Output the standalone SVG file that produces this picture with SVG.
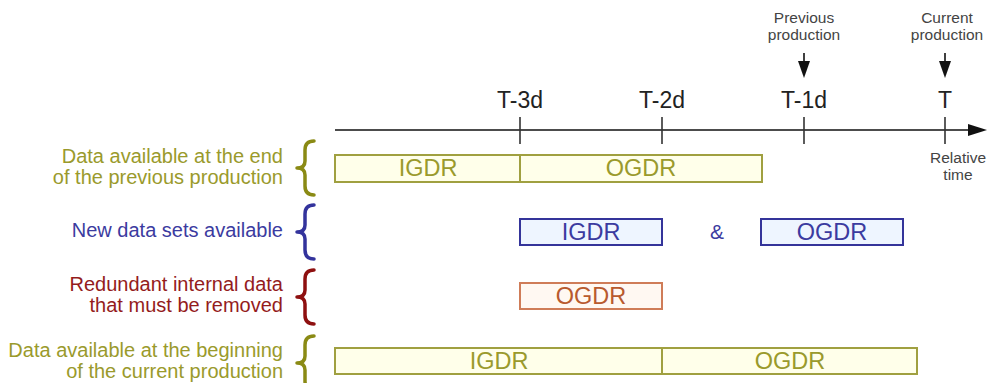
<svg xmlns="http://www.w3.org/2000/svg" width="987" height="383" viewBox="0 0 987 383">
<defs>
<style>
text{font-family:"Liberation Sans",Arial,sans-serif}
.lbl{font-size:20px;text-anchor:end}
.ol{fill:#9a9a2c}
.bl{fill:#3b3ba0}
.rd{fill:#941c1c}
.tick{font-size:23px;fill:#222;text-anchor:middle}
.sm{font-size:15.5px;fill:#444;text-anchor:middle}
.bx{font-size:23.5px;text-anchor:middle}
.brace{fill:none;stroke-width:3.5;stroke-linecap:round;stroke-linejoin:round}
.axis{stroke:#111;stroke-width:1.6;fill:none}
.tk{stroke:#333;stroke-width:1.6}
.ob{fill:#ffffea;stroke:#a0a040;stroke-width:2}
.bb{fill:#eef5ff;stroke:#34349a;stroke-width:2}
.rb{fill:#fff8f2;stroke:#cf7c58;stroke-width:2}
</style>
</defs>

<g id="connectors">
<path class="axis" d="M335,130 L970,130"/>
<path d="M968,124 L987,130 L968,136 z" fill="#111"/>
<line class="tk" x1="520" y1="117" x2="520" y2="144"/>
<line class="tk" x1="662" y1="117" x2="662" y2="144"/>
<line class="tk" x1="804" y1="117" x2="804" y2="144"/>
<line class="tk" x1="945" y1="117" x2="945" y2="144"/>
<line x1="804" y1="53" x2="804" y2="63" stroke="#111" stroke-width="1.6"/>
<path d="M798,61 L810,61 L804,78 z" fill="#111"/>
<line x1="945" y1="53" x2="945" y2="63" stroke="#111" stroke-width="1.6"/>
<path d="M939,61 L951,61 L945,78 z" fill="#111"/>
</g>

<g id="axis-labels">
<text class="tick" x="520" y="108">T-3d</text>
<text class="tick" x="662" y="108">T-2d</text>
<text class="tick" x="804" y="108">T-1d</text>
<text class="tick" x="945" y="108">T</text>
<text class="sm" x="804" y="23">Previous</text>
<text class="sm" x="804" y="40">production</text>
<text class="sm" x="947" y="23">Current</text>
<text class="sm" x="947" y="40">production</text>
<text class="sm" x="958" y="163">Relative</text>
<text class="sm" x="958" y="180">time</text>
</g>

<g id="row1">
<text class="lbl ol" x="283" y="163">Data available at the end</text>
<text class="lbl ol" x="283" y="184">of the previous production</text>
<path class="brace" stroke="#8a8a14" d="M314,141 Q305,141 305,150 L305,161 Q305,168 297,168 Q305,168 305,175 L305,186 Q305,195 314,195"/>
<rect class="ob" x="335" y="155" width="427" height="27"/>
<line x1="520" y1="155" x2="520" y2="182" stroke="#a0a040" stroke-width="2"/>
<text class="bx ol" x="428" y="176">IGDR</text>
<text class="bx ol" x="641" y="176">OGDR</text>
</g>

<g id="row2">
<text class="lbl bl" x="283" y="237">New data sets available</text>
<path class="brace" stroke="#33339c" d="M314,205 Q305,205 305,214 L305,225 Q305,232 297,232 Q305,232 305,239 L305,250 Q305,259 314,259"/>
<rect class="bb" x="520" y="219" width="142" height="26"/>
<text class="bx bl" x="591" y="240">IGDR</text>
<text class="bx bl" x="717" y="239" style="font-size:21px">&amp;</text>
<rect class="bb" x="761" y="219" width="142" height="26"/>
<text class="bx bl" x="832" y="240">OGDR</text>
</g>

<g id="row3">
<text class="lbl rd" x="283" y="291">Redundant internal data</text>
<text class="lbl rd" x="283" y="312">that must be removed</text>
<path class="brace" stroke="#8e1010" d="M314,270 Q305,270 305,279 L305,290 Q305,297 297,297 Q305,297 305,304 L305,315 Q305,324 314,324"/>
<rect class="rb" x="520" y="283" width="142" height="26"/>
<text class="bx" x="591" y="304" fill="#b85a2e">OGDR</text>
</g>

<g id="row4">
<text class="lbl ol" x="283" y="357">Data available at the beginning</text>
<text class="lbl ol" x="283" y="378">of the current production</text>
<path class="brace" stroke="#8a8a14" d="M314,336 Q305,336 305,345 L305,356 Q305,363 297,363 Q305,363 305,370 L305,381 Q305,390 314,390"/>
<rect class="ob" x="335" y="348" width="582" height="26"/>
<line x1="662" y1="348" x2="662" y2="374" stroke="#a0a040" stroke-width="2"/>
<text class="bx ol" x="499" y="369">IGDR</text>
<text class="bx ol" x="790" y="369">OGDR</text>
</g>
</svg>
